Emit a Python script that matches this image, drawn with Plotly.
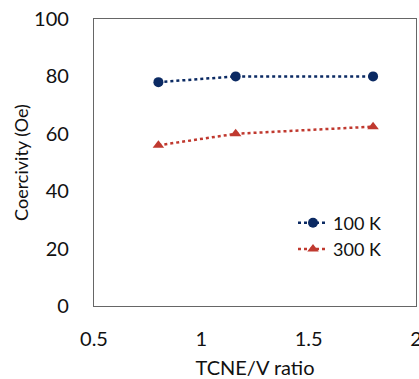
import plotly.graph_objects as go

ratio = [0.8, 1.16, 1.8]
coer_100K = [78, 80, 80]
coer_300K = [56, 60, 62.5]
x_ticks = [0.5, 1, 1.5, 2]
y_ticks = [0, 20, 40, 60, 80, 100]

font = "Lato"
fig = go.Figure()
fig.add_trace(go.Scatter(x=ratio, y=coer_100K, name="100 K", mode="lines+markers",
                         line=dict(color="#0b2a63", width=2.5, dash="dot"),
                         marker=dict(symbol="circle", size=10, color="#0b2a63")))
fig.add_trace(go.Scatter(x=ratio, y=coer_300K, name="300 K", mode="lines+markers",
                         line=dict(color="#c0392f", width=2.5, dash="dot"),
                         marker=dict(symbol="triangle-up", size=10, color="#c0392f")))

fig.update_layout(
    width=419, height=379,
    margin=dict(l=94, r=3, t=19, b=73),
    paper_bgcolor="white", plot_bgcolor="white",
    font=dict(family=font, size=20, color="#111"),
    showlegend=True,
    legend=dict(x=0.618, y=0.244, xanchor="left", yanchor="middle",
                bgcolor="rgba(0,0,0,0)", font=dict(size=18), tracegroupgap=2),
    xaxis=dict(range=[0.5, 2], tickvals=x_ticks, ticktext=[str(t) for t in x_ticks],
               showgrid=False, zeroline=False, showline=True, linecolor="#666",
               linewidth=1.3, mirror=True, ticks="", automargin=False,
               ticklabelstandoff=15, ticklabeloverflow="allow",
               title=dict(text="TCNE/V ratio", standoff=16, font=dict(size=20))),
    yaxis=dict(range=[0, 100], tickvals=y_ticks, showgrid=False, zeroline=False,
               showline=True, linecolor="#666", linewidth=1.3, mirror=True, ticks="",
               automargin=False, ticklabelstandoff=20, ticklabeloverflow="allow",
               title=dict(text="Coercivity (Oe)", standoff=0, font=dict(size=18))),
)
fig.write_html("out.html", config={"displayModeBar": False},
               post_script="document.body.style.margin='0';document.body.style.overflow='hidden';")
